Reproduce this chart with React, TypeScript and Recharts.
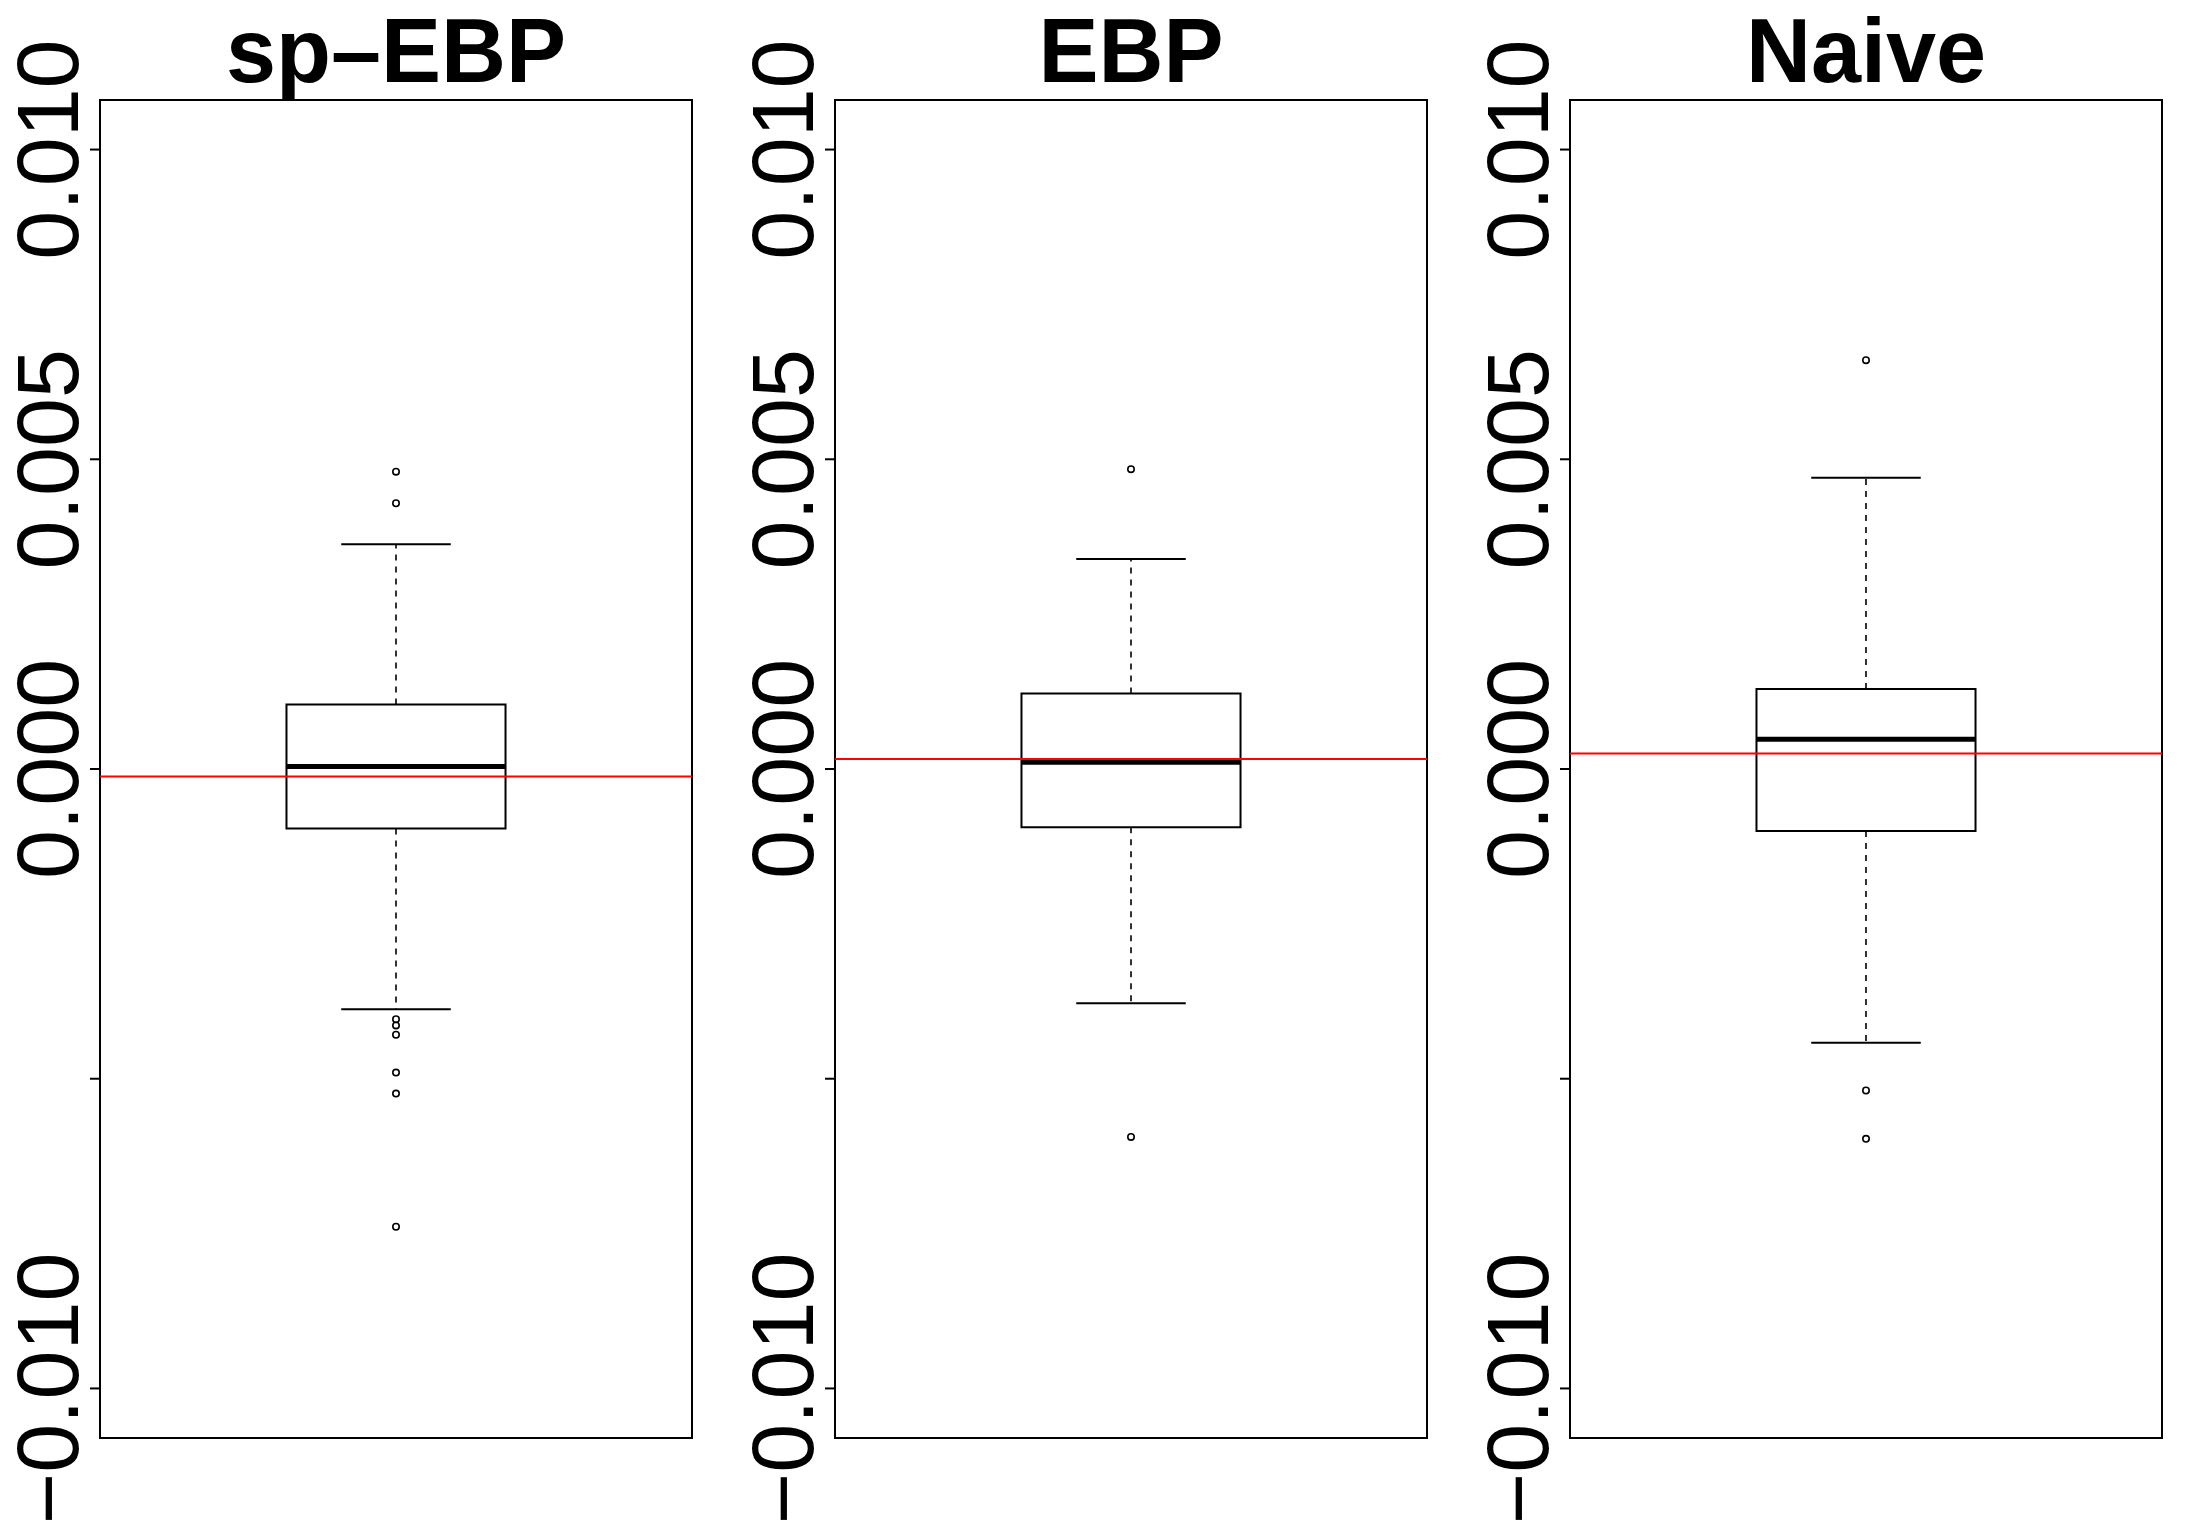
import React from "react";
import {
  ComposedChart,
  XAxis,
  YAxis,
  Scatter,
  ReferenceLine,
  ReferenceArea,
} from "recharts";

// ---- data ----
const methods = ["sp–EBP", "EBP", "Naive"];
const lowerWhisker = [-0.00388, -0.00378, -0.00442];
const q1 = [-0.00096, -0.00094, -0.001];
const median = [0.00004, 0.00011, 0.00048];
const q3 = [0.00104, 0.00122, 0.00129];
const upperWhisker = [0.00363, 0.00339, 0.0047];
const outliersSpEbp = [0.0048, 0.00429, -0.00404, -0.00414, -0.00429, -0.0049, -0.00524, -0.00739];
const outliersEbp = [0.00484, -0.00594];
const outliersNaive = [0.0066, -0.00519, -0.00597];
const trueValue = [-0.00012, 0.00016, 0.00025];

const yTicks = [-0.01, -0.005, 0, 0.005, 0.01];
const yTickLabels = ["−0.010", "", "0.000", "0.005", "0.010"];

const outliers = [outliersSpEbp, outliersEbp, outliersNaive];
const Y_DOMAIN: [number, number] = [-0.0108, 0.0108];
const BOX_HALF = 0.185;
const CAP_HALF = 0.0925;

const PANEL_W = 734;
const PANEL_H = 1540;
const PANEL_LEFT = [0, 735, 1470];
const FONT = "'Liberation Sans', Arial, Helvetica, sans-serif";

const YTick = (props: any) => {
  const { x, y, payload } = props;
  const idx = yTicks.indexOf(payload.value);
  const label = idx >= 0 ? yTickLabels[idx] : "";
  if (!label) return <g />;
  return (
    <text
      transform={`translate(${x},${y}) rotate(-90)`}
      textAnchor="middle"
      fontSize={88}
      fontFamily={FONT}
      fill="#000"
    >
      {label}
    </text>
  );
};

const Outlier = (props: any) => (
  <circle cx={props.cx} cy={props.cy} r={3.2} fill="none" stroke="#000" strokeWidth={1.6} />
);

function Panel({ i }: { i: number }) {
  const pts = outliers[i].map((v) => ({ x: 1, y: v }));
  return (
    <ComposedChart
      width={PANEL_W}
      height={PANEL_H}
      margin={{ top: 100, right: 42, bottom: 102, left: 0 }}
    >
      <XAxis type="number" dataKey="x" domain={[0.5, 1.5]} allowDataOverflow hide />
      <YAxis
        type="number"
        dataKey="y"
        domain={Y_DOMAIN}
        allowDataOverflow
        ticks={yTicks}
        width={100}
        axisLine={false}
        tickLine={{ stroke: "#000", strokeWidth: 2 }}
        tickSize={10}
        tickMargin={12}
        tick={<YTick />}
        interval={0}
      />
      {/* plot frame */}
      <ReferenceArea
        x1={0.5}
        x2={1.5}
        y1={Y_DOMAIN[0]}
        y2={Y_DOMAIN[1]}
        fill="none"
        stroke="#000"
        strokeWidth={2}
      />
      {/* box */}
      <ReferenceArea
        x1={1 - BOX_HALF}
        x2={1 + BOX_HALF}
        y1={q1[i]}
        y2={q3[i]}
        fill="none"
        fillOpacity={0}
        stroke="#000"
        strokeWidth={2}
      />
      {/* whiskers */}
      <ReferenceLine
        segment={[{ x: 1, y: q3[i] }, { x: 1, y: upperWhisker[i] }]}
        stroke="#000"
        strokeWidth={1.6}
        strokeDasharray="6 6"
      />
      <ReferenceLine
        segment={[{ x: 1, y: q1[i] }, { x: 1, y: lowerWhisker[i] }]}
        stroke="#000"
        strokeWidth={1.6}
        strokeDasharray="6 6"
      />
      <ReferenceLine
        segment={[{ x: 1 - CAP_HALF, y: upperWhisker[i] }, { x: 1 + CAP_HALF, y: upperWhisker[i] }]}
        stroke="#000"
        strokeWidth={2}
      />
      <ReferenceLine
        segment={[{ x: 1 - CAP_HALF, y: lowerWhisker[i] }, { x: 1 + CAP_HALF, y: lowerWhisker[i] }]}
        stroke="#000"
        strokeWidth={2}
      />
      {/* median */}
      <ReferenceLine
        segment={[{ x: 1 - BOX_HALF, y: median[i] }, { x: 1 + BOX_HALF, y: median[i] }]}
        stroke="#000"
        strokeWidth={5}
      />
      <Scatter data={pts} isAnimationActive={false} shape={<Outlier />} />
      {/* true value */}
      <ReferenceLine y={trueValue[i]} stroke="#ff0000" strokeWidth={2} />
    </ComposedChart>
  );
}

export default function App() {
  return (
    <div
      style={{
        position: "absolute",
        left: 0,
        top: 0,
        width: 2203,
        height: 1540,
        background: "#fff",
      }}
    >
      {methods.map((m, i) => (
        <div key={m} style={{ position: "absolute", left: PANEL_LEFT[i], top: 0 }}>
          <Panel i={i} />
        </div>
      ))}
      <svg
        width={2203}
        height={1540}
        style={{ position: "absolute", left: 0, top: 0, pointerEvents: "none" }}
      >
        {methods.map((m, i) => (
          <text
            key={m}
            x={PANEL_LEFT[i] + 100 + 296}
            y={82}
            textAnchor="middle"
            fontSize={90}
            fontWeight="bold"
            fontFamily={FONT}
            fill="#000"
          >
            {m}
          </text>
        ))}
      </svg>
    </div>
  );
}
